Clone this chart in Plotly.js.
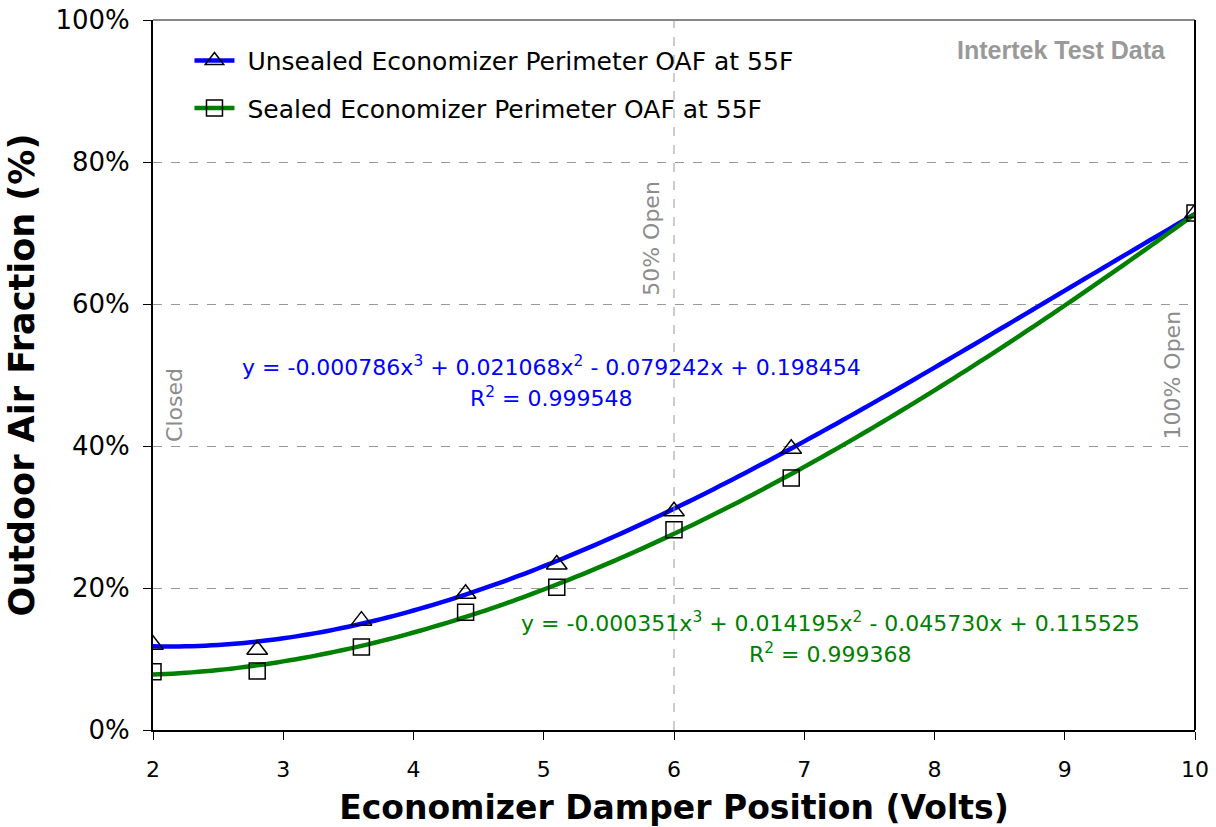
<!DOCTYPE html>
<html>
<head>
<meta charset="utf-8">
<script src="https://cdn.plot.ly/plotly-3.0.1.min.js"></script>
<style>html,body{margin:0;padding:0;background:#fff;}#chart{width:1216px;height:827px;}</style>
</head>
<body>
<div id="chart"></div>
<script>
// Measured data points
const damperVolts = [2, 2.8, 3.6, 4.4, 5.1, 6.0, 6.9, 10];
const unsealedOAF = [0.120, 0.113, 0.154, 0.192, 0.233, 0.308, 0.396, 0.728];
const sealedOAF   = [0.082, 0.083, 0.117, 0.166, 0.201, 0.282, 0.355, 0.728];

// Trendline coefficients (cubic: a3, a2, a1, a0) as shown on the chart
const unsealedCoef = [-0.000786, 0.021068, -0.079242, 0.198454];
const sealedCoef   = [-0.000351, 0.014195, -0.045730, 0.115525];
const unsealedR2 = "0.999548";
const sealedR2 = "0.999368";

const seriesNames = ["Unsealed Economizer Perimeter OAF at 55F", "Sealed Economizer Perimeter OAF at 55F"];
const yTickVals = [0, 0.2, 0.4, 0.6, 0.8, 1.0];
const yTickText = ["0%", "20%", "40%", "60%", "80%", "100%"];
const xTickVals = [2, 3, 4, 5, 6, 7, 8, 9, 10];

function trend(c) {
  const xs = [], ys = [];
  for (let i = 0; i <= 160; i++) {
    const x = 2 + i * 0.05;
    xs.push(x);
    ys.push(((c[0] * x + c[1]) * x + c[2]) * x + c[3]);
  }
  return {xs, ys};
}
function fmt(v) { return Math.abs(v).toFixed(6); }
function eqText(c) {
  const s = (v) => v < 0 ? " - " : " + ";
  return "y = " + (c[0] < 0 ? "-" : "") + fmt(c[0]) + "x<sup>3</sup>" + s(c[1]) + fmt(c[1]) + "x<sup>2</sup>" + s(c[2]) + fmt(c[2]) + "x" + s(c[3]) + fmt(c[3]);
}

const tU = trend(unsealedCoef), tS = trend(sealedCoef);
const font = "DejaVu Sans, Verdana, sans-serif";
const triMarker = {symbol: "triangle-up-open", size: 18, color: "#000", line: {width: 1.5, color: "#000"}};
const sqMarker = {symbol: "square-open", size: 16, color: "#000", line: {width: 1.5, color: "#000"}};

const traces = [
  {x: tU.xs, y: tU.ys, mode: "lines", line: {color: "#0000ff", width: 4.5, simplify: false}, showlegend: false, hoverinfo: "skip"},
  {x: tS.xs, y: tS.ys, mode: "lines", line: {color: "#008000", width: 4.5, simplify: false}, showlegend: false, hoverinfo: "skip"},
  {x: damperVolts, y: unsealedOAF, mode: "markers", name: seriesNames[0], showlegend: false, marker: triMarker},
  {x: damperVolts, y: sealedOAF, mode: "markers", name: seriesNames[1], showlegend: false, marker: sqMarker},
  // legend entries
  {x: [null], y: [null], mode: "lines+markers", name: " " + seriesNames[0], legendgroup: "a",
   line: {color: "#0000ff", width: 4.5}, marker: triMarker},
  {x: [null], y: [null], mode: "lines+markers", name: " " + seriesNames[1], legendgroup: "b",
   line: {color: "#008000", width: 4.5}, marker: sqMarker}
];

const grey = "#8c8c8c";
const layout = {
  width: 1216, height: 827,
  margin: {l: 153, r: 21, t: 20, b: 97},
  paper_bgcolor: "#fff", plot_bgcolor: "#fff",
  font: {family: font, color: "#000"},
  xaxis: {
    range: [2, 10], tickvals: xTickVals, ticks: "outside", ticklen: 8, tickcolor: "#000",
    ticklabelstandoff: 11,
    tickfont: {size: 22, family: font}, showgrid: false, zeroline: false,
    showline: true, linecolor: "#000", linewidth: 2,
    title: {text: "<b>Economizer Damper Position (Volts)</b>", font: {size: 33, family: font}, standoff: 16}
  },
  yaxis: {
    range: [0, 1], tickvals: yTickVals, ticktext: yTickText, ticks: "outside", ticklen: 8, tickcolor: "#000",
    ticklabelstandoff: 8,
    tickfont: {size: 26, family: font}, showgrid: true, gridcolor: "#999", griddash: "dash", gridwidth: 1,
    zeroline: false, showline: true, linecolor: "#000", linewidth: 2,
    title: {text: "<b>Outdoor Air Fraction (%)</b>", font: {size: 35, family: font}, standoff: 10}
  },
  legend: {x: 0.035, y: 0.975, xanchor: "left", yanchor: "top", bgcolor: "rgba(0,0,0,0)",
    font: {size: 25, family: font}, itemwidth: 40, tracegroupgap: 12},
  shapes: [
    {type: "line", xref: "x", yref: "paper", x0: 6, x1: 6, y0: 0, y1: 1, line: {color: "#999", width: 1, dash: "dash"}},
    {type: "line", xref: "paper", yref: "paper", x0: 0, x1: 1, y0: 1, y1: 1, line: {color: "#888", width: 2}},
    {type: "line", xref: "paper", yref: "paper", x0: 1, x1: 1, y0: 0, y1: 1, line: {color: "#000", width: 2}}
  ],
  annotations: [
    {xref: "paper", yref: "paper", x: 0.974, y: 0.958, xanchor: "right", yanchor: "middle", showarrow: false,
     text: "<b>Intertek Test Data</b>", font: {family: "Liberation Sans, Arial, sans-serif", size: 25, color: "#999"}},
    {xref: "x", yref: "paper", x: 2.17, y: 0.458, xanchor: "center", yanchor: "middle", showarrow: false, textangle: -90, text: "Closed",
     font: {size: 22, color: grey, family: font}},
    {xref: "x", yref: "paper", x: 5.83, y: 0.693, xanchor: "center", yanchor: "middle", showarrow: false, textangle: -90, text: "50% Open",
     font: {size: 22, color: grey, family: font}},
    {xref: "x", yref: "paper", x: 9.82, y: 0.50, xanchor: "center", yanchor: "middle", showarrow: false, textangle: -90, text: "100% Open",
     font: {size: 22, color: grey, family: font}},
    {xref: "x", yref: "paper", x: 5.056, y: 0.513, xanchor: "center", yanchor: "middle", showarrow: false, text: eqText(unsealedCoef),
     font: {size: 22, color: "#0000ff", family: font}},
    {xref: "x", yref: "paper", x: 5.056, y: 0.469, xanchor: "center", yanchor: "middle", showarrow: false, text: "R<sup>2</sup> = " + unsealedR2,
     font: {size: 22, color: "#0000ff", family: font}},
    {xref: "x", yref: "paper", x: 7.205, y: 0.152, xanchor: "center", yanchor: "middle", showarrow: false, text: eqText(sealedCoef),
     font: {size: 22, color: "#008000", family: font}},
    {xref: "x", yref: "paper", x: 7.205, y: 0.108, xanchor: "center", yanchor: "middle", showarrow: false, text: "R<sup>2</sup> = " + sealedR2,
     font: {size: 22, color: "#008000", family: font}}
  ]
};

Plotly.newPlot("chart", traces, layout, {displayModeBar: false, staticPlot: true});
</script>
</body>
</html>
